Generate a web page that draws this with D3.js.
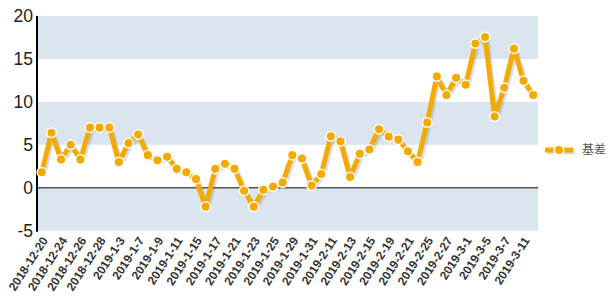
<!DOCTYPE html>
<html><head><meta charset="utf-8">
<script src="https://cdn.jsdelivr.net/npm/d3@7"></script>
<style>body{margin:0;background:#fff}svg{display:block}</style>
</head><body>
<script>
const categories = ["2018-12-20","2018-12-21","2018-12-24","2018-12-25","2018-12-26","2018-12-27","2018-12-28","2019-1-2","2019-1-3","2019-1-4","2019-1-7","2019-1-8","2019-1-9","2019-1-10","2019-1-11","2019-1-14","2019-1-15","2019-1-16","2019-1-17","2019-1-18","2019-1-21","2019-1-22","2019-1-23","2019-1-24","2019-1-25","2019-1-28","2019-1-29","2019-1-30","2019-1-31","2019-2-1","2019-2-11","2019-2-12","2019-2-13","2019-2-14","2019-2-15","2019-2-18","2019-2-19","2019-2-20","2019-2-21","2019-2-22","2019-2-25","2019-2-26","2019-2-27","2019-2-28","2019-3-1","2019-3-4","2019-3-5","2019-3-6","2019-3-7","2019-3-8","2019-3-11","2019-3-12"];
const basis = [1.8,6.4,3.3,5.0,3.3,7.0,7.0,7.0,3.0,5.2,6.2,3.8,3.2,3.6,2.2,1.8,1.0,-2.2,2.2,2.8,2.2,-0.35,-2.2,-0.25,0.15,0.6,3.8,3.4,0.25,1.6,6.0,5.4,1.25,3.95,4.45,6.8,5.95,5.6,4.25,3.0,7.6,12.95,10.8,12.8,12.0,16.8,17.55,8.3,11.65,16.2,12.45,10.8];
const yTicks = [-5,0,5,10,15,20];
const seriesName = "基差";

const W = 609, H = 299;
const svg = d3.select("body").append("svg").attr("width", W).attr("height", H);
const x = d3.scalePoint().domain(categories).range([37, 538]).padding(0.5);
const y = d3.scaleLinear().domain([-5, 20]).range([230.7, 16]);

// bands
const bands = [[15,20],[5,10],[-5,0]];
svg.selectAll("rect.band").data(bands).enter().append("rect")
  .attr("x", 37).attr("width", 501)
  .attr("y", d => y(d[1])).attr("height", d => y(d[0]) - y(d[1]))
  .attr("fill", "#dbe5f0");

// zero line
svg.append("line").attr("x1", 37).attr("x2", 538).attr("y1", y(0)).attr("y2", y(0))
  .attr("stroke", "#555").attr("stroke-width", 1.5);

// y axis
svg.append("line").attr("x1", 37).attr("x2", 37).attr("y1", y(20)).attr("y2", y(-5)+1)
  .attr("stroke", "#000").attr("stroke-width", 2);
svg.selectAll("text.yt").data(yTicks).enter().append("text")
  .attr("x", 33).attr("y", d => y(d)).attr("dy", "0.36em")
  .attr("text-anchor", "end").attr("font-family", "Liberation Sans, Arial, sans-serif")
  .attr("font-size", 17.5).attr("fill", "#222").text(d => d);

// x labels
const labeled = categories.filter((d, i) => i % 2 === 0);
svg.selectAll("text.xt").data(labeled).enter().append("text")
  .attr("transform", d => `translate(${x(d) + 3},${238}) rotate(-57)`)
  .attr("text-anchor", "end").attr("dy", "0.35em")
  .attr("font-family", "Liberation Sans, Arial, sans-serif").attr("font-weight", "bold")
  .attr("font-size", 12).attr("fill", "#333").text(d => d);

const line = d3.line().x((d, i) => x(categories[i])).y(d => y(d));
// shadow
svg.append("path").datum(basis).attr("d", line).attr("transform", "translate(2,2)")
  .attr("fill", "none").attr("stroke", "rgba(80,100,130,0.22)").attr("stroke-width", 5)
  .attr("stroke-linejoin", "round");
svg.append("path").datum(basis).attr("d", line)
  .attr("fill", "none").attr("stroke", "#f4aa00").attr("stroke-width", 5)
  .attr("stroke-linejoin", "round");
svg.selectAll("circle.pt").data(basis).enter().append("circle")
  .attr("cx", (d, i) => x(categories[i])).attr("cy", d => y(d)).attr("r", 4.8)
  .attr("fill", "#f4aa00").attr("stroke", "#fff").attr("stroke-width", 1.5);

// legend
const lg = svg.append("g");
lg.append("line").attr("x1", 547).attr("x2", 575).attr("y1", 152).attr("y2", 152)
  .attr("stroke", "rgba(80,100,130,0.22)").attr("stroke-width", 5);
lg.append("line").attr("x1", 545).attr("x2", 573).attr("y1", 150).attr("y2", 150)
  .attr("stroke", "#f4aa00").attr("stroke-width", 5);
lg.append("circle").attr("cx", 559).attr("cy", 150).attr("r", 4.8)
  .attr("fill", "#f4aa00").attr("stroke", "#fff").attr("stroke-width", 1.5);
lg.append("text").attr("x", 582).attr("y", 150).attr("dy", "0.36em")
  .attr("font-family", "Noto Sans CJK SC, sans-serif").attr("font-size", 12)
  .attr("fill", "#555").text(seriesName);
</script>
</body></html>
